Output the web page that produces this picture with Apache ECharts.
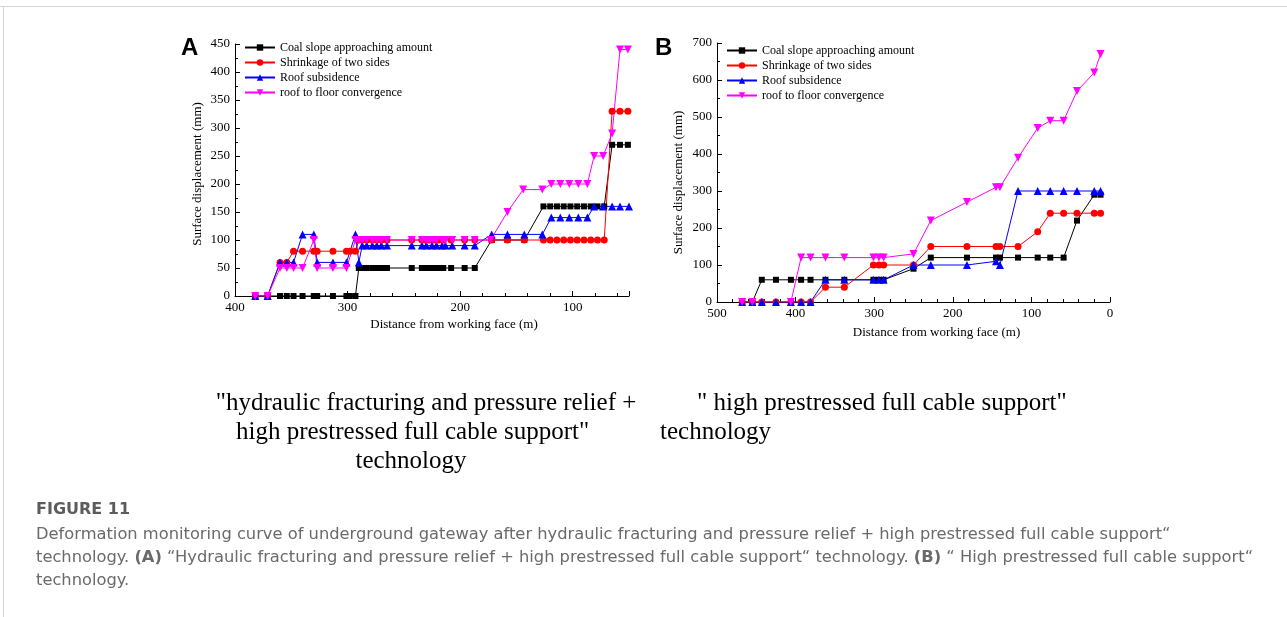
<!DOCTYPE html>
<html>
<head>
<meta charset="utf-8">
<script src="https://cdn.jsdelivr.net/npm/echarts@6/dist/echarts.min.js"></script>
<style>
html,body{margin:0;padding:0;background:#fff;}
#c{width:1287px;height:617px;}
</style>
</head>
<body>
<div id="c"></div>
<script>
// ---------- DATA ----------
const seriesNames = ['Coal slope approaching amount','Shrinkage of two sides','Roof subsidence','roof to floor convergence'];

// Chart A
const aCoalX = [382,371,360,354,348,340,330,327,313,301,298,293,290,287,283,278,274,270,265,243,234,231,228,225,222,219,215,208,196,187,172,158,143,126,120,114,108,102,96,90,84,78,72,65,58,51];
const aCoalY = [0,0,0,0,0,0,0,0,0,0,0,0,50,50,50,50,50,50,50,50,50,50,50,50,50,50,50,50,50,50,100,100,100,160,160,160,160,160,160,160,160,160,160,270,270,270];
const aShrinkX = aCoalX;
const aShrinkY = [0,0,60,60,80,80,80,80,80,80,80,80,100,100,100,100,100,100,100,100,100,100,100,100,100,100,100,100,100,100,100,100,100,100,100,100,100,100,100,100,100,100,100,330,330,330];
const aRoofX = [382,371,360,354,348,340,330,327,313,301,293,290,287,283,278,274,270,265,243,234,230,225,221,216,213,207,196,187,172,158,143,127,119,111,103,95,87,81,73,65,58,50];
const aRoofY = [0,0,60,60,60,110,110,60,60,60,110,60,90,90,90,90,90,90,90,90,90,90,90,90,90,90,90,90,110,110,110,110,140,140,140,140,140,160,160,160,160,160];
const aConvX = [382,371,360,354,348,340,330,327,313,301,293,290,287,283,278,274,270,265,243,234,230,227,224,221,216,213,207,196,187,173,158,144,127,119,111,103,95,87,81,73,65,58,51];
const aConvY = [0,0,50,50,50,50,100,50,50,50,100,100,100,100,100,100,100,100,100,100,100,100,100,100,100,100,100,100,100,100,150,190,190,200,200,200,200,200,250,250,290,440,440];

// Chart B
const bX = [468,455,443,425,406,393,381,362,338,301,294,288,250,228,182,145,140,117,92,76,59,42,20,12];
const bCoalY = [0,0,60,60,60,60,60,60,60,60,60,60,90,120,120,120,120,120,120,120,120,220,290,290];
const bShrinkY = [0,0,0,0,0,0,0,40,40,100,100,100,100,150,150,150,150,150,190,240,240,240,240,240];
const bRoofY = [0,0,0,0,0,0,0,60,60,60,60,60,100,100,100,110,100,300,300,300,300,300,300,300];
const bConvX = [468,455,406,393,381,362,338,301,294,288,250,228,182,145,140,117,92,76,59,42,20,12];
const bConvY = [0,0,0,120,120,120,120,120,120,120,130,220,270,310,310,390,470,490,490,570,620,670];

// axis ranges / ticks
const aXRange = [50, 400];
const aYRange = [0, 450], aYStep = 50;
const bXRange = [0, 500], bXStep = 100;
const bYRange = [0, 700], bYStep = 100;

// ---------- STYLE ----------
const SERIF = '"Liberation Serif","Times New Roman",serif';
const colors = ['#000000','#ff0000','#0000ff','#ff00ff'];
const symbols = ['rect','circle','triangle','path://M0,0 L10,0 L5,9 Z'];
const symSizes = [6,7,8,8];

function zip(xs, ys){ return xs.map((x,i)=>[x, ys[i]]); }

function mkSeries(name, idx, data, gi){
  return {
    name: name, type: 'line', xAxisIndex: gi, yAxisIndex: gi,
    data: data, symbol: symbols[idx], symbolSize: symSizes[idx],
    showAllSymbol: true,
    itemStyle: {color: colors[idx]},
    lineStyle: {color: colors[idx], width: 1},
    emphasis: {disabled: true}
  };
}

function axisCommon(minorSplit){
  return {
    axisLine: {show: true, onZero: false, lineStyle: {color: '#000', width: 1}},
    axisTick: {show: true, inside: true, length: 5, lineStyle: {color: '#000', width: 1}},
    minorTick: {show: true, splitNumber: minorSplit, length: 3, lineStyle: {color: '#000', width: 1}},
    splitLine: {show: false},
    axisLabel: {color: '#000', fontFamily: SERIF, fontSize: 13, margin: 5},
    nameTextStyle: {color: '#000', fontFamily: SERIF, fontSize: 13}
  };
}

const xA = Object.assign(axisCommon(5), {
  gridIndex: 0, type: 'value', inverse: true, min: aXRange[0], max: aXRange[1],
  name: 'Distance from working face (m)', nameLocation: 'middle', nameGap: 22,
});
xA.axisLabel.showMinLabel = false;
xA.nameTextStyle.padding = [0,0,0,44];

const yA = Object.assign(axisCommon(2), {
  gridIndex: 0, type: 'value', min: aYRange[0], max: aYRange[1], interval: aYStep,
  name: 'Surface displacement (mm)', nameLocation: 'middle', nameGap: 31
});
yA.nameTextStyle.padding = [0,8,0,0];

const xB = Object.assign(axisCommon(5), {
  gridIndex: 1, type: 'value', inverse: true, min: bXRange[0], max: bXRange[1], interval: bXStep,
  name: 'Distance from working face (m)', nameLocation: 'middle', nameGap: 24
});
xB.nameTextStyle.padding = [0,0,0,46];

const yB = Object.assign(axisCommon(2), {
  gridIndex: 1, type: 'value', min: bYRange[0], max: bYRange[1], interval: bYStep,
  name: 'Surface displacement (mm)', nameLocation: 'middle', nameGap: 32
});
yB.nameTextStyle.padding = [0,20,0,0];

function legendAt(left, top){
  return {
    orient: 'vertical', left: left, top: top, data: seriesNames,
    itemWidth: 30, itemHeight: 8, itemGap: 2, padding: 0,
    textStyle: {color: '#000', fontFamily: SERIF, fontSize: 12, lineHeight: 13},
    selectedMode: false
  };
}

function txt(x, y, text, font, fill, align){
  return {type: 'text', x: x, y: y, silent: true,
    style: {text: text, font: font, fill: fill || '#000', align: align || 'left', textAlign: align || 'left', verticalAlign: 'middle', textVerticalAlign: 'middle'}};
}

const capFont = '25px ' + SERIF;
const BODYFAM = '"DejaVu Sans", sans-serif';
const BODYSIZE = 16.3;
const bodyFont = BODYSIZE + 'px ' + BODYFAM;
const bodyColor = '#6a6a6a';

const option = {
  animation: false,
  backgroundColor: '#fff',
  grid: [
    {left: 235, top: 44, width: 394, height: 252},
    {left: 717, top: 43, width: 393, height: 259}
  ],
  xAxis: [xA, xB],
  yAxis: [yA, yB],
  legend: [legendAt(244, 41), legendAt(726, 44)],
  series: [
    mkSeries(seriesNames[0], 0, zip(aCoalX, aCoalY), 0),
    mkSeries(seriesNames[1], 1, zip(aShrinkX, aShrinkY), 0),
    mkSeries(seriesNames[2], 2, zip(aRoofX, aRoofY), 0),
    mkSeries(seriesNames[3], 3, zip(aConvX, aConvY), 0),
    mkSeries(seriesNames[0], 0, zip(bX, bCoalY), 1),
    mkSeries(seriesNames[1], 1, zip(bX, bShrinkY), 1),
    mkSeries(seriesNames[2], 2, zip(bX, bRoofY), 1),
    mkSeries(seriesNames[3], 3, zip(bConvX, bConvY), 1)
  ],
  graphic: [
    {type: 'line', silent: true, shape: {x1: 0, y1: 6.5, x2: 1287, y2: 6.5}, style: {stroke: '#d4d4d4', lineWidth: 1}},
    {type: 'line', silent: true, shape: {x1: 3.5, y1: 6.5, x2: 3.5, y2: 617}, style: {stroke: '#d4d4d4', lineWidth: 1}},
    txt(181, 48, 'A', 'bold 24px "Liberation Sans", Arial, sans-serif'),
    txt(655, 48, 'B', 'bold 24px "Liberation Sans", Arial, sans-serif'),
    txt(426, 403, '"hydraulic fracturing and pressure relief +', capFont, '#000', 'center'),
    txt(236, 432, 'high prestressed full cable support"', capFont, '#000', 'left'),
    txt(411, 461, 'technology', capFont, '#000', 'center'),
    txt(697, 403, '" high prestressed full cable support"', capFont, '#000', 'left'),
    txt(660, 432, 'technology', capFont, '#000', 'left'),
    txt(36, 510, 'FIGURE 11', 'bold 16px ' + BODYFAM, '#5c5c5c', 'left'),
    txt(36, 535, 'Deformation monitoring curve of underground gateway after hydraulic fracturing and pressure relief + high prestressed full cable support\u201C', bodyFont, bodyColor, 'left'),
    {type: 'text', x: 36, y: 558, silent: true, style: {
      text: '{n|technology. }{b|(A)}{n| \u201CHydraulic fracturing and pressure relief + high prestressed full cable support\u201C technology. }{b|(B)}{n| \u201C High prestressed full cable support\u201C}',
      font: bodyFont, fill: bodyColor, verticalAlign: 'middle', textVerticalAlign: 'middle',
      rich: {n: {fontFamily: BODYFAM, fontSize: BODYSIZE, fill: bodyColor, color: bodyColor},
             b: {fontFamily: BODYFAM, fontSize: BODYSIZE, fontWeight: 'bold', fill: bodyColor, color: bodyColor}}
    }},
    txt(36, 581, 'technology.', bodyFont, bodyColor, 'left')
  ]
};

const chart = echarts.init(document.getElementById('c'), null, {renderer: 'canvas'});
chart.setOption(option);
</script>
</body>
</html>
